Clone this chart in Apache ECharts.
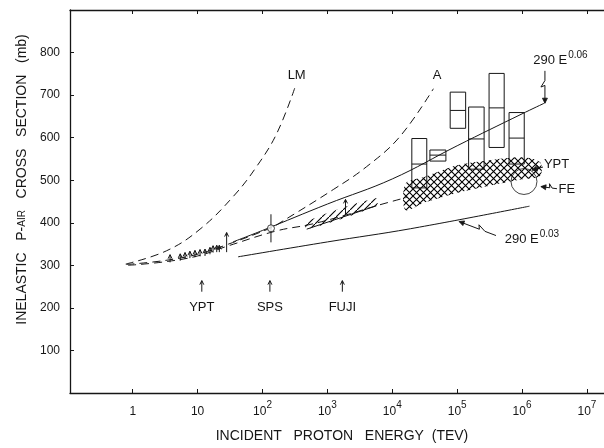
<!DOCTYPE html>
<html>
<head>
<meta charset="utf-8">
<script src="https://cdn.jsdelivr.net/npm/echarts@6/dist/echarts.min.js"></script>
<style>
  html, body { margin: 0; background: #fff; }
  #chart { width: 604px; height: 448px; }
</style>
</head>
<body>
<div id="chart"></div>
<script>
const INK = '#161616'
const FONT = 'Liberation Sans'

// x range (TeV), y range (mb)
const energyRange = [0.108, 1.83e7]
const sigmaTicks = [100, 200, 300, 400, 500, 600, 700, 800]

// dashed model curves
const lmEnergy = [0.78, 3.3, 10.9, 35.5, 81, 166, 318]
const lmSigma = [303, 334, 385, 462, 532, 610, 719]
const aEnergy = [0.8, 3, 10, 30, 135, 186, 1230, 4030, 13000, 43000]
const aSigma = [302, 311, 326, 350, 388, 400, 478, 532, 602, 715]
const lowEnergy = [0.85, 3, 10, 30, 165, 540, 1900, 5700, 17000]
const lowSigma = [300, 308, 322, 346, 381, 396, 418, 440, 460]

// solid fits 290 E^0.06 and 290 E^0.03 as drawn
const e06Energy = [35, 100, 1000, 10000, 1e5, 1e6, 2.2e6]
const e06Sigma = [355, 382, 444, 503, 581, 656, 681]
const e03Energy = [42, 1000, 19000, 1.3e6]
const e03Sigma = [320, 355, 386, 439]

// YPT lower limits: energy, base, tip
const yptEnergy = [3.76, 5.4, 6.4, 7.6, 9.1, 10.9, 13, 15.5, 17.3, 19.7, 21.6, 28]
const yptBase = [307, 311, 315, 317, 319, 321, 322, 326, 330, 331, 331, 331]
const yptTip = [325, 327, 330, 333, 335, 337, 338, 342, 346, 347, 347, 377]

// SPS point with error bar
const spsEnergy = [135]
const spsSigma = [387]
const spsLow = [354]
const spsHigh = [420]

// Fuji band (single hatch) and its limit arrow
const fujiEnergy = [480, 5700]
const fujiLower = [385, 440]
const fujiUpper = [403, 458]
const fujiArrow = [[1900, 420, 455]]

// cross-hatched band (YPT high energy)
const bandEnergy = [16000, 32000, 100000, 316000, 1e6, 1.9e6]
const bandUpper = [492, 508, 535, 547, 554, 542]
const bandLower = [430, 448, 470, 487, 502, 510]

// boxes: E low, E high, sigma low, mid, high
const boxes = [
  [2.0e4, 3.4e4, 482, 538, 598],
  [3.8e4, 6.7e4, 545, 559, 571],
  [7.8e4, 1.35e5, 622, 664, 707],
  [1.5e5, 2.6e5, 526, 597, 672],
  [3.1e5, 5.3e5, 577, 670, 751],
  [6.3e5, 1.08e6, 538, 599, 659]
]

// Fe circle
const feEnergy = [1.07e6]
const feSigma = [497]

// labels and pointers
const noteText = ['LM', 'A', '290 E{sup|0.06}', '290 E{sup|0.03}', 'YPT', 'FE', 'YPT', 'SPS', 'FUJI']
const noteEnergy = [336, 4.9e4, 3.9e6, 1.42e6, 3.4e6, 4.9e6, 11.6, 130, 1700]
const noteSigma = [746, 746, 782, 362, 538, 478, 200, 200, 200]
const pointers = [
  [2.25e6, 757, 2.25e6, 681],
  [3.96e5, 370, 1.07e5, 403],
  [3.45e6, 480, 1.95e6, 485],
  [2.1e6, 531, 1.42e6, 524]
]
const expArrows = [[11.6, 238, 264], [130, 238, 264], [1700, 238, 264]]

const pairs = (xs, ys) => xs.map((x, i) => [x, ys[i]])

const makePattern = (cross) => {
  const c = document.createElement('canvas')
  c.width = 7
  c.height = 7
  const g = c.getContext('2d')
  g.strokeStyle = '#000'
  g.lineWidth = 1.1
  g.beginPath()
  g.moveTo(-1, 8); g.lineTo(8, -1)
  if (cross) { g.moveTo(-1, -1); g.lineTo(8, 8) }
  g.stroke()
  return { image: c, repeat: 'repeat' }
}

const lineSeries = (xs, ys, dashed) => ({
  type: 'line',
  data: pairs(xs, ys),
  smooth: 0.4,
  showSymbol: false,
  silent: true,
  lineStyle: { color: INK, width: 1, type: dashed ? [8, 5] : 'solid' }
})

const arrowHead = (tip, from, size, filled) => {
  const dx = tip[0] - from[0]
  const dy = tip[1] - from[1]
  const len = Math.hypot(dx, dy) || 1
  const ux = dx / len, uy = dy / len
  const bx = tip[0] - ux * size, by = tip[1] - uy * size
  const w = size * 0.5
  const pts = [[bx - uy * w, by + ux * w], tip, [bx + uy * w, by - ux * w]]
  return filled
    ? { type: 'polygon', shape: { points: pts }, style: { fill: INK, stroke: INK, lineWidth: 0.8 } }
    : { type: 'polyline', shape: { points: pts }, style: { stroke: INK, fill: null, lineWidth: 1 } }
}

const renderUpArrow = (params, api) => {
  const base = api.coord([api.value(0), api.value(1)])
  const tip = api.coord([api.value(0), api.value(2)])
  return {
    type: 'group',
    children: [
      { type: 'line', shape: { x1: base[0], y1: base[1], x2: tip[0], y2: tip[1] }, style: { stroke: INK, lineWidth: 1 } },
      arrowHead(tip, base, 4, false)
    ]
  }
}

const renderPolygon = (xs, top, bottom, cross, edge) => (params, api) => {
  if (params.dataIndex !== 0) return null
  const up = xs.map((x, i) => api.coord([x, top[i]]))
  const lo = xs.map((x, i) => api.coord([x, bottom[i]]))
  const children = [{
    type: 'polygon',
    shape: { points: up.concat(lo.slice().reverse()), smooth: 0.3 },
    style: { fill: makePattern(cross), stroke: null }
  }]
  if (edge) {
    children.push({ type: 'polyline', shape: { points: lo }, style: { stroke: INK, lineWidth: 1, fill: null } })
  }
  return { type: 'group', children }
}

const renderBox = (params, api) => {
  const tl = api.coord([api.value(0), api.value(4)])
  const br = api.coord([api.value(1), api.value(2)])
  const mid = api.coord([api.value(0), api.value(3)])[1]
  return {
    type: 'group',
    children: [
      { type: 'rect', shape: { x: tl[0], y: tl[1], width: br[0] - tl[0], height: br[1] - tl[1] }, style: { stroke: INK, fill: null, lineWidth: 1 } },
      { type: 'line', shape: { x1: tl[0], y1: mid, x2: br[0], y2: mid }, style: { stroke: INK, lineWidth: 1 } }
    ]
  }
}

const renderPointer = (params, api) => {
  const a = api.coord([api.value(0), api.value(1)])
  const b = api.coord([api.value(2), api.value(3)])
  const dx = b[0] - a[0], dy = b[1] - a[1]
  const len = Math.hypot(dx, dy) || 1
  const nx = -dy / len, ny = dx / len
  const at = (t, off) => [a[0] + dx * t + nx * off, a[1] + dy * t + ny * off]
  return {
    type: 'group',
    children: [
      { type: 'polyline', shape: { points: [a, at(0.3, 0), at(0.5, 4), at(0.45, 0), b] }, style: { stroke: INK, lineWidth: 1, fill: null } },
      arrowHead(b, at(0.6, 0), 5, true)
    ]
  }
}

const renderNote = (params, api) => {
  const p = api.coord([api.value(0), api.value(1)])
  return {
    type: 'text',
    x: p[0],
    y: p[1],
    style: {
      text: noteText[params.dataIndex],
      fill: INK,
      font: '13px ' + FONT,
      align: 'center',
      verticalAlign: 'middle',
      rich: { sup: { fontSize: 10, fontFamily: FONT, verticalAlign: 'top', padding: [0, 0, 10, 1] } }
    }
  }
}

const chart = echarts.init(document.getElementById('chart'), null, { renderer: 'canvas' })

// no interval here: the nice log ticks land on whole decades
const xAxisBase = {
  type: 'log',
  logBase: 10,
  min: energyRange[0],
  max: energyRange[1],
  axisLine: { show: true, onZero: false, lineStyle: { color: INK, width: 1.3 } },
  axisTick: { show: true, inside: true, length: 4, lineStyle: { color: INK } },
  splitLine: { show: false },
  minorTick: { show: false }
}

const decadeLabel = (v) => {
  const e = Math.log10(v)
  const n = Math.round(e)
  if (Math.abs(e - n) > 1e-3 || n < 0) return ''
  if (n === 0) return '{b|1}'
  if (n === 1) return '{b|10}'
  return '{b|10}{sup|' + n + '}'
}

chart.setOption({
  backgroundColor: '#ffffff',
  animation: false,
  textStyle: { fontFamily: FONT, color: INK },
  grid: { left: 70, right: 0, top: 10, bottom: 53 },
  xAxis: [
    {
      ...xAxisBase,
      position: 'bottom',
      name: 'INCIDENT   PROTON   ENERGY  (TEV)',
      nameLocation: 'middle',
      nameGap: 36,
      nameTextStyle: { fontSize: 14, color: INK, fontFamily: FONT, padding: [0, 0, 0, 10] },
      axisLabel: {
        margin: 7,
        color: INK,
        showMinLabel: false,
        showMaxLabel: false,
        formatter: decadeLabel,
        rich: {
          b: { fontSize: 12, fontFamily: FONT, color: INK, lineHeight: 18, verticalAlign: 'bottom' },
          sup: { fontSize: 10, fontFamily: FONT, color: INK, lineHeight: 18, verticalAlign: 'top' }
        }
      }
    },
    {
      ...xAxisBase,
      position: 'top',
      axisLabel: { show: false }
    }
  ],
  yAxis: {
    type: 'value',
    min: 0,
    max: 900,
    interval: 100,
    name: 'INELASTIC   P-{s|AIR}   CROSS   SECTION   (mb)',
    nameLocation: 'middle',
    nameGap: 40,
    nameTextStyle: {
      fontSize: 14,
      color: INK,
      fontFamily: FONT,
      padding: [0, 0, 0, 44],
      rich: { s: { fontSize: 10, fontFamily: FONT, color: INK } }
    },
    axisLine: { show: true, onZero: false, lineStyle: { color: INK, width: 1.3 } },
    axisTick: { show: true, inside: true, length: 4, lineStyle: { color: INK } },
    splitLine: { show: false },
    axisLabel: {
      margin: 10,
      fontSize: 12,
      color: INK,
      fontFamily: FONT,
      formatter: (v) => (sigmaTicks.includes(v) ? String(v) : '')
    }
  },
  series: [
    lineSeries(lmEnergy, lmSigma, true),
    lineSeries(aEnergy, aSigma, true),
    lineSeries(lowEnergy, lowSigma, true),
    lineSeries(e06Energy, e06Sigma, false),
    lineSeries(e03Energy, e03Sigma, false),
    {
      type: 'custom',
      silent: true,
      renderItem: renderPolygon(bandEnergy, bandUpper, bandLower, true, false),
      data: pairs(bandEnergy, bandUpper)
    },
    {
      type: 'custom',
      silent: true,
      renderItem: renderPolygon(fujiEnergy, fujiUpper, fujiLower, false, true),
      data: pairs(fujiEnergy, fujiUpper)
    },
    {
      type: 'custom',
      silent: true,
      renderItem: renderBox,
      data: boxes
    },
    {
      type: 'custom',
      silent: true,
      renderItem: renderUpArrow,
      data: yptEnergy.map((e, i) => [e, yptBase[i], yptTip[i]]).concat(fujiArrow, expArrows)
    },
    {
      type: 'custom',
      silent: true,
      renderItem: (params, api) => {
        const lo = api.coord([api.value(0), api.value(2)])
        const hi = api.coord([api.value(0), api.value(3)])
        return { type: 'line', shape: { x1: lo[0], y1: lo[1], x2: hi[0], y2: hi[1] }, style: { stroke: INK, lineWidth: 1 } }
      },
      data: spsEnergy.map((e, i) => [e, spsSigma[i], spsLow[i], spsHigh[i]])
    },
    {
      type: 'scatter',
      silent: true,
      symbol: 'circle',
      symbolSize: 7,
      itemStyle: { color: '#fff', borderColor: INK, borderWidth: 1 },
      data: pairs(spsEnergy, spsSigma),
      z: 5
    },
    {
      type: 'scatter',
      silent: true,
      symbol: 'circle',
      symbolSize: 26,
      itemStyle: { color: 'rgba(0,0,0,0)', borderColor: INK, borderWidth: 1 },
      data: pairs(feEnergy, feSigma)
    },
    {
      type: 'custom',
      silent: true,
      renderItem: renderPointer,
      data: pointers
    },
    {
      type: 'custom',
      silent: true,
      renderItem: renderNote,
      data: pairs(noteEnergy, noteSigma)
    }
  ]
})
</script>
</body>
</html>
